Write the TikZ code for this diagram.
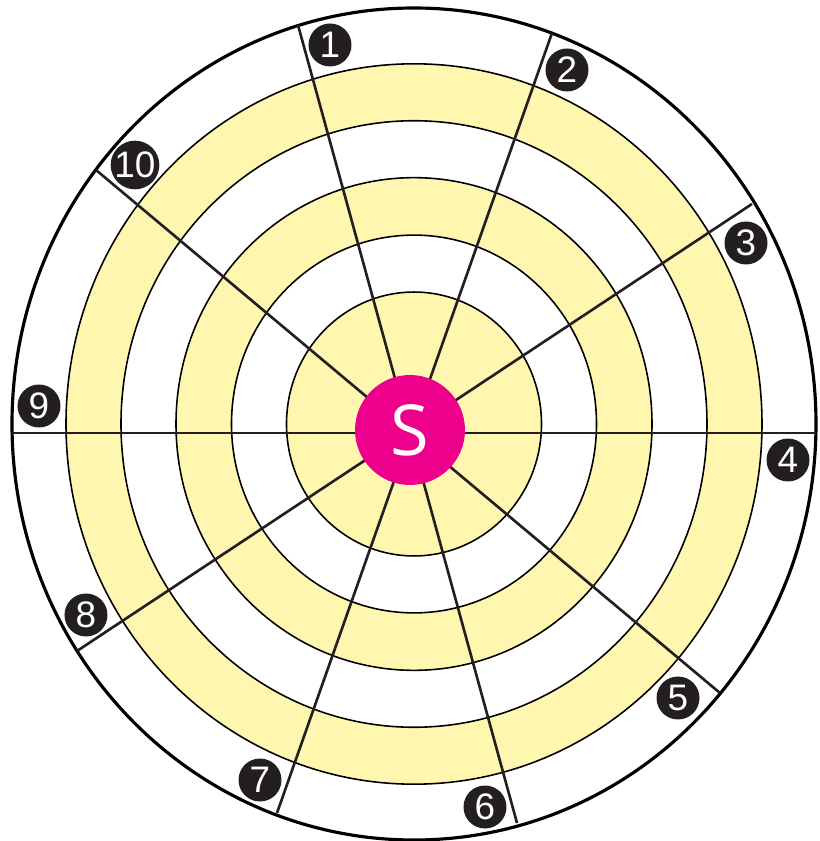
\documentclass[tikz,border=0pt]{standalone}
\usepackage{fontspec}
\newfontfamily\numfont{Liberation Sans}
\newfontfamily\sfont{Open Sans}
\definecolor{ringyellow}{HTML}{FFF7B0}
\definecolor{smagenta}{HTML}{EC008C}
\definecolor{numblack}{HTML}{231F20}
\tikzset{
  num/.style={circle, fill=numblack, text=white, minimum size=0.86cm, inner sep=0pt, font=\numfont\fontsize{21}{21}\selectfont},
  spoke/.style={line width=1.5pt, numblack}
}
\begin{document}
\begin{tikzpicture}[x=0.02cm, y=0.02cm]
\useasboundingbox (-414,-417) rectangle (405,424);
\draw[line width=1.8pt, fill=white] (0,0) ellipse [x radius=402, y radius=416];
\foreach \r/\c in {348/ringyellow, 293/white, 238/ringyellow, 182.5/white, 127.5/ringyellow}
{
    \draw[line width=0.9pt, fill=\c] (0,0) ellipse [x radius=\r, y radius=1.035*\r];
}
% ends of the spokes on the outer ring
\coordinate (e1) at (-116,399);
\coordinate (e2) at (138,391);
\coordinate (e3) at (338,220);
\coordinate (e4) at (402,-9);
\coordinate (e5) at (306,-269);
\coordinate (e6) at (103,-399);
\coordinate (e7) at (-137,-389);
\coordinate (e8) at (-337,-227);
\coordinate (e9) at (-402,-9);
\coordinate (e10) at (-318,254);
\foreach \a/\b in {1/6, 2/7, 3/8, 4/9, 5/10}
{
    \draw[spoke] (e\a) -- (e\b);
}
\node[circle, fill=smagenta, text=white, minimum size=2.2cm, inner sep=0pt, font=\sfont\fontsize{40}{40}\selectfont] (s) at (-4,-6) {S};
\node[num] (n1) at (-84,379) {1};
\node[num] (n2) at (153,354) {2};
\node[num] (n3) at (332,181) {3};
\node[num] (n4) at (374,-36) {4};
\node[num] (n5) at (264,-274) {5};
\node[num] (n6) at (71,-383) {6};
\node[num] (n7) at (-154,-356) {7};
\node[num] (n8) at (-328,-191) {8};
\node[num] (n9) at (-375,18) {9};
\node[num] (n10) at (-279,259) {10};
\end{tikzpicture}
\end{document}
